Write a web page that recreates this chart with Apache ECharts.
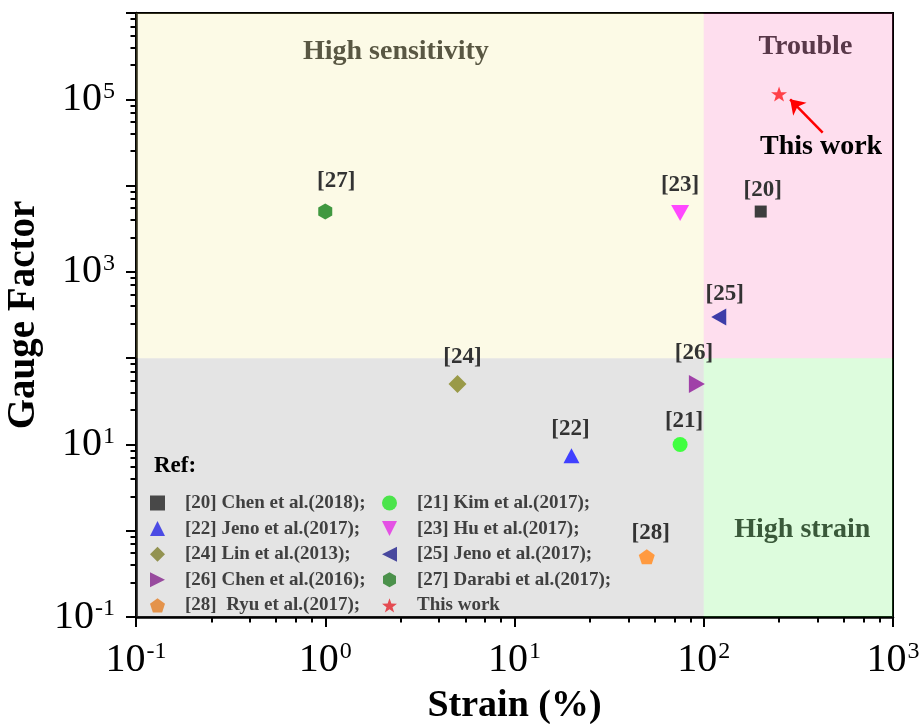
<!DOCTYPE html>
<html>
<head>
<meta charset="utf-8">
<script src="https://cdn.jsdelivr.net/npm/echarts@6/dist/echarts.min.js"></script>
<style>
  html, body { margin: 0; padding: 0; background: #ffffff; }
  #chart { width: 922px; height: 724px; }
</style>
</head>
<body>
<div id="chart"></div>
<script>
// ---- data: strain range (%) and gauge factor of each reported sensor ----
const refKeys = ['[20]', '[21]', '[22]', '[23]', '[24]', '[25]', '[26]', '[27]', '[28]', 'This work'];
const refNames = [
  '[20] Chen et al.(2018);', '[21] Kim et al.(2017);', '[22] Jeno et al.(2017);',
  '[23] Hu et al.(2017);', '[24] Lin et al.(2013);', '[25] Jeno et al.(2017);',
  '[26] Chen et al.(2016);', '[27] Darabi et al.(2017);', '[28]  Ryu et al.(2017);', 'This work'
];
const strainPct   = [200, 75, 20, 75, 5, 120, 92, 1, 50, 250];
const gaugeFactor = [5000, 10, 7.4, 4800, 50, 300, 50, 5000, 0.5, 115000];

// ---- regions of the strain / gauge-factor plane ----
const xRange = [0.1, 1000];
const yRange = [0.1, 1e6];
const strainLimit = 100;
const gaugeLimit = 100;
const regionNames = ['High sensitivity', 'Trouble', 'High strain'];

// ---- axis ticks ----
const xDecades = [0.1, 1, 10, 100, 1000];
const yDecades = [0.1, 1, 10, 100, 1e3, 1e4, 1e5, 1e6];
const yLabelled = [0.1, 10, 1e3, 1e5];
const minorSteps = [2.5, 4, 5.5, 7, 8.5];

// ---- annotation for this work ----
const noteText = 'This work';
const arrowFrom = [425, 41000];
const arrowTo = [286, 100000];
const noteAt = [417, 27900];

// ---- appearance ----
const FONT = '"Liberation Serif", "Times New Roman", serif';

function polygonPath(n, innerRatio, startAngle) {
  const pts = [];
  const count = innerRatio ? n * 2 : n;
  const a0 = startAngle === undefined ? -Math.PI / 2 : startAngle;
  for (let i = 0; i < count; i++) {
    const r = innerRatio && i % 2 ? 10 * innerRatio : 10;
    const a = a0 + i * 2 * Math.PI / count;
    pts.push((r * Math.cos(a)).toFixed(2) + ',' + (r * Math.sin(a)).toFixed(2));
  }
  return 'path://M' + pts.join('L') + 'Z';
}
const TRI_UP = 'path://M0,-10L10,10L-10,10Z';
const TRI_DOWN = 'path://M0,10L10,-10L-10,-10Z';
const TRI_LEFT = 'path://M-10,0L10,-10L10,10Z';
const TRI_RIGHT = 'path://M10,0L-10,-10L-10,10Z';

const markerStyle = {
  '[20]': { symbol: 'rect', size: 12, color: '#3d3d3d', offset: [2, -21] },
  '[21]': { symbol: 'circle', size: 15, color: '#40ff40', offset: [4, -23] },
  '[22]': { symbol: TRI_UP, size: [16, 15], color: '#4040ff', offset: [-1, -27] },
  '[23]': { symbol: TRI_DOWN, size: [18, 16], color: '#ff48ff', offset: [0, -28] },
  '[24]': { symbol: 'diamond', size: 18, color: '#9a9a48', offset: [5, -27] },
  '[25]': { symbol: TRI_LEFT, size: [15, 17], color: '#3d3da8', offset: [6, -23] },
  '[26]': { symbol: TRI_RIGHT, size: [16, 18], color: '#a040a8', offset: [-3, -31] },
  '[27]': { symbol: polygonPath(6), size: [14, 16], color: '#409840', offset: [11, -30] },
  '[28]': { symbol: polygonPath(5), size: [16, 15], color: '#ff9a40', offset: [4, -24] },
  'This work': { symbol: polygonPath(5, 0.4), size: [16, 15], color: '#ff4048', offset: null }
};

function minorTicks(decades) {
  const out = [];
  for (let i = 0; i < decades.length - 1; i++) {
    minorSteps.forEach(s => out.push(s * decades[i]));
  }
  return out;
}

const powerLabel = {
  formatter: v => '{b|10}{s|' + Math.round(Math.log10(v)) + '}',
  rich: {
    b: { fontFamily: FONT, fontSize: 40, color: '#000', lineHeight: 40, verticalAlign: 'bottom' },
    s: { fontFamily: FONT, fontSize: 24, color: '#000', lineHeight: 40, verticalAlign: 'top', padding: [0, 0, 0, 1] }
  }
};

const pointSeries = refKeys.map((key, i) => {
  const st = markerStyle[key];
  return {
    type: 'scatter',
    name: refNames[i],
    z: 2,
    xAxisIndex: 0,
    yAxisIndex: 0,
    symbol: st.symbol,
    symbolSize: st.size,
    itemStyle: { color: st.color, opacity: 1 },
    label: {
      show: !!st.offset,
      position: 'inside',
      offset: st.offset || [0, 0],
      formatter: key,
      fontFamily: FONT,
      fontSize: 23,
      fontWeight: 'bold',
      color: '#333'
    },
    emphasis: { disabled: true },
    data: [[strainPct[i], gaugeFactor[i]]]
  };
});

// translucent overlays that tint the four regions
const regionSeries = {
  type: 'scatter',
  name: 'regions',
  z: 3,
  silent: true,
  data: [],
  markArea: {
    silent: true,
    label: { fontFamily: FONT, fontSize: 28, fontWeight: 'bold', position: 'inside' },
    data: [
      [{ coord: [xRange[0], gaugeLimit], itemStyle: { color: 'rgba(240,230,130,0.2)' },
         label: { show: true, formatter: regionNames[0], color: '#595743', offset: [-24, -134] } },
       { coord: [strainLimit, yRange[1]] }],
      [{ coord: [strainLimit, gaugeLimit], itemStyle: { color: 'rgba(250,80,167,0.19)' },
         label: { show: true, formatter: regionNames[1], color: '#593849', offset: [7, -139] } },
       { coord: [xRange[1], yRange[1]] }],
      [{ coord: [xRange[0], yRange[0]], itemStyle: { color: 'rgba(120,120,120,0.2)' },
         label: { show: false } },
       { coord: [strainLimit, gaugeLimit] }],
      [{ coord: [strainLimit, yRange[0]], itemStyle: { color: 'rgba(85,240,85,0.2)' },
         label: { show: true, formatter: regionNames[2], color: '#3a593a', offset: [4, 42] } },
       { coord: [xRange[1], gaugeLimit] }]
    ]
  }
};

// arrow and caption pointing at this work
const noteSeries = {
  type: 'scatter',
  name: 'note',
  z: 4,
  silent: true,
  data: [],
  markLine: {
    silent: true,
    symbol: ['none', 'arrow'],
    symbolSize: 14,
    label: { show: false },
    lineStyle: { color: '#ff0000', width: 2.5, type: 'solid' },
    data: [[{ coord: arrowFrom }, { coord: arrowTo }]]
  },
  markPoint: {
    silent: true,
    symbol: 'circle',
    symbolSize: 1,
    itemStyle: { color: 'rgba(0,0,0,0)' },
    label: {
      show: true, position: 'inside', formatter: noteText,
      fontFamily: FONT, fontSize: 28, fontWeight: 'bold', color: '#000'
    },
    data: [{ coord: noteAt }]
  }
};

const legendText = {
  fontFamily: FONT, fontSize: 19, fontWeight: 'bold', color: '#333',
  lineHeight: 15, padding: [0, 0, 0, 15]
};
function legendBlock(left, names) {
  return {
    orient: 'vertical', left: left, top: 493.5, padding: 0,
    itemWidth: 15, itemHeight: 15, itemGap: 6.6, z: 1,
    selectedMode: false, textStyle: legendText,
    data: names
  };
}

const chart = echarts.init(document.getElementById('chart'), null, { renderer: 'canvas' });
chart.setOption({
  animation: false,
  backgroundColor: '#ffffff',
  title: {
    text: 'Ref:', left: 154, top: 455, padding: 0, z: 6,
    textStyle: { fontFamily: FONT, fontSize: 23, fontWeight: 'bold', color: '#000' }
  },
  legend: [
    legendBlock(150, [refNames[0], refNames[2], refNames[4], refNames[6], refNames[8]]),
    legendBlock(382, [refNames[1], refNames[3], refNames[5], refNames[7], refNames[9]])
  ],
  grid: {
    left: 136, right: 29, top: 13, bottom: 107,
    show: true, borderColor: '#000', borderWidth: 2, backgroundColor: '#ffffff',
    containLabel: false, outerBoundsMode: 'none'
  },
  xAxis: [
    {
      type: 'log', logBase: 10, min: xRange[0], max: xRange[1], position: 'bottom',
      name: 'Strain (%)', nameLocation: 'middle', nameGap: 70,
      nameTextStyle: { fontFamily: FONT, fontSize: 38, fontWeight: 'bold', color: '#000' },
      axisLine: { show: true, lineStyle: { color: '#000', width: 2.5 } },
      axisTick: { show: true, length: 10, lineStyle: { color: '#000', width: 2 }, customValues: xDecades },
      axisLabel: Object.assign({ show: true, margin: 23, customValues: xDecades }, powerLabel),
      splitLine: { show: false }, minorTick: { show: false }
    },
    {
      type: 'log', logBase: 10, min: xRange[0], max: xRange[1], position: 'bottom',
      axisLine: { show: false },
      axisTick: { show: true, length: 5.5, lineStyle: { color: '#000', width: 2 }, customValues: minorTicks(xDecades) },
      axisLabel: { show: false }, splitLine: { show: false }
    }
  ],
  yAxis: [
    {
      type: 'log', logBase: 10, min: yRange[0], max: yRange[1], position: 'left',
      name: 'Gauge Factor', nameLocation: 'middle', nameGap: 83,
      nameTextStyle: { fontFamily: FONT, fontSize: 39, fontWeight: 'bold', color: '#000' },
      axisLine: { show: true, lineStyle: { color: '#000', width: 2.5 } },
      axisTick: { show: true, length: 10, lineStyle: { color: '#000', width: 2 }, customValues: yDecades },
      axisLabel: Object.assign({ show: true, margin: 21, customValues: yLabelled }, powerLabel),
      splitLine: { show: false }, minorTick: { show: false }
    },
    {
      type: 'log', logBase: 10, min: yRange[0], max: yRange[1], position: 'left',
      axisLine: { show: false },
      axisTick: { show: true, length: 5.5, lineStyle: { color: '#000', width: 2 }, customValues: minorTicks(yDecades) },
      axisLabel: { show: false }, splitLine: { show: false }
    }
  ],
  series: pointSeries.concat([regionSeries, noteSeries])
});
</script>
</body>
</html>
